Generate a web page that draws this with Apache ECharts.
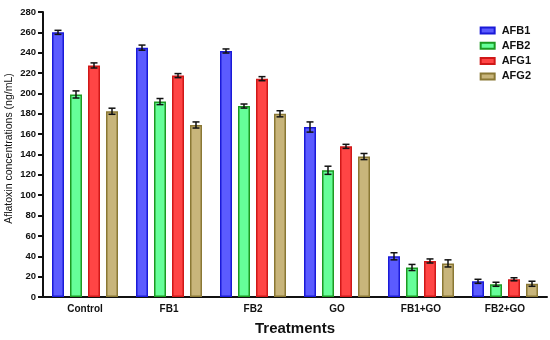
<!DOCTYPE html>
<html><head><meta charset="utf-8">
<script src="https://cdn.jsdelivr.net/npm/echarts@6/dist/echarts.min.js"></script>
<style>html,body{margin:0;padding:0;background:#fff}#c{width:550px;height:340px}</style>
</head><body><div id="c"></div>
<script>
var categories = ['Control','FB1','FB2','GO','FB1+GO','FB2+GO'];
var seriesNames = ['AFB1','AFB2','AFG1','AFG2'];
var afb1 = [260, 245, 241.7, 167, 40, 15.4];
var afb2 = [199, 192, 187.6, 124.5, 29, 12.5];
var afg1 = [227.5, 217.5, 214.5, 148, 35.4, 17.4];
var afg2 = [182.5, 169, 180, 138, 33, 13];
var afb1Err = [2, 2.5, 2, 5, 3.5, 2];
var afb2Err = [3.5, 3, 2, 4, 3, 2];
var afg1Err = [2.5, 2, 2, 2, 2, 1.5];
var afg2Err = [3, 3, 3, 3, 3.5, 2.5];
var yTicks = [0,20,40,60,80,100,120,140,160,180,200,220,240,260,280];

var values = [afb1, afb2, afg1, afg2];
var errs = [afb1Err, afb2Err, afg1Err, afg2Err];
var fills = ['#5b5bff','#66ff99','#ff4545','#c8b57b'];
var borders = ['#1a1ad8','#1c9a22','#d01818','#8a7835'];
var BW = 12, GAP = 6;
var font = 'Liberation Sans, Arial, sans-serif';

var series = [];
values.forEach(function(v, i){
  series.push({
    name: seriesNames[i], type: 'bar', data: v, barWidth: BW, barGap: '50%',
    itemStyle: {color: fills[i], borderColor: borders[i], borderWidth: 1.5},
    z: 2
  });
});
values.forEach(function(v, i){
  series.push({
    type: 'custom', name: seriesNames[i] + ' err', z: 5,
    data: v.map(function(val, k){ return [k, val, errs[i][k]]; }),
    renderItem: function(params, api){
      var x = api.value(0), m = api.value(1), e = api.value(2);
      var off = (i - 1.5) * (BW + GAP);
      var hi = api.coord([x, m + e]), lo = api.coord([x, m - e]);
      var cx = hi[0] + off, hw = 3.5;
      var st = {stroke: '#111', lineWidth: 1.5};
      return {type: 'group', children: [
        {type: 'line', shape: {x1: cx, y1: hi[1], x2: cx, y2: lo[1]}, style: st},
        {type: 'line', shape: {x1: cx - hw, y1: hi[1], x2: cx + hw, y2: hi[1]}, style: st},
        {type: 'line', shape: {x1: cx - hw, y1: lo[1], x2: cx + hw, y2: lo[1]}, style: st}
      ]};
    },
    encode: {x: 0, y: 1}, silent: true
  });
});

var chart = echarts.init(document.getElementById('c'), null, {renderer: 'canvas'});
chart.setOption({
  animation: false,
  textStyle: {fontFamily: font},
  grid: {left: 43, right: 3, top: 12, bottom: 43, containLabel: false, outerBoundsMode: 'none'},
  legend: {
    data: seriesNames, orient: 'vertical', right: 14, top: 20,
    icon: 'rect', itemWidth: 14, itemHeight: 6, itemGap: 4.3,
    textStyle: {fontFamily: font, fontWeight: 'bold', fontSize: 11, lineHeight: 11, color: '#111', padding: [0,0,0,2]}
  },
  xAxis: {
    type: 'category', data: categories,
    name: 'Treatments', nameLocation: 'middle', nameGap: 24,
    nameTextStyle: {fontFamily: font, fontWeight: 'bold', fontSize: 15, color: '#111'},
    axisLine: {lineStyle: {color: '#111', width: 2}},
    axisTick: {alignWithLabel: true, length: 5, lineStyle: {color: '#111', width: 2}},
    axisLabel: {fontFamily: font, fontWeight: 'bold', fontSize: 10, color: '#111', margin: 7}
  },
  yAxis: {
    type: 'value', min: 0, max: 280, interval: 20,
    name: 'Aflatoxin concentrations (ng/mL)', nameLocation: 'middle', nameGap: 28,
    nameMoveOverlap: false,
    nameTextStyle: {fontFamily: font, fontSize: 10.5, color: '#111', padding: [0,0,0,12]},
    axisLine: {show: true, lineStyle: {color: '#111', width: 2}},
    axisTick: {show: true, length: 5, lineStyle: {color: '#111', width: 2}},
    axisLabel: {fontFamily: font, fontWeight: 'bold', fontSize: 9.5, color: '#111', margin: 7,
      formatter: function(v){ return yTicks.indexOf(v) >= 0 ? String(v) : ''; }},
    splitLine: {show: false}
  },
  series: series
});
</script></body></html>
